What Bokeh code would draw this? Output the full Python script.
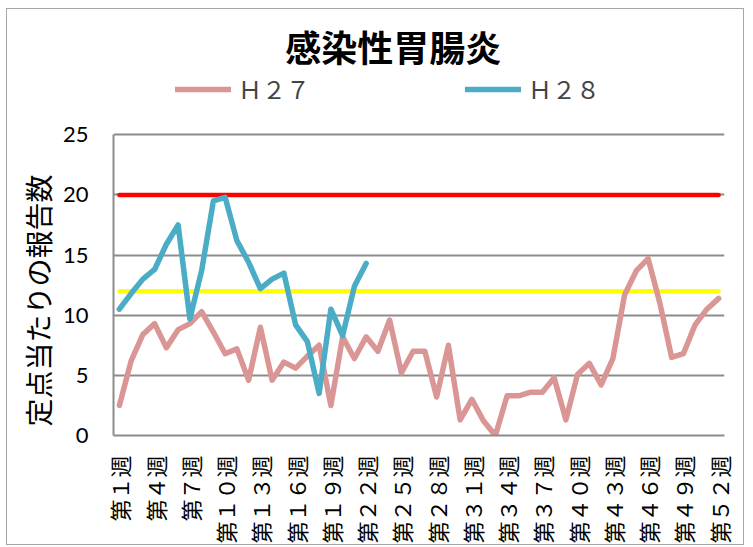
import math
from bokeh.plotting import figure
from bokeh.models import (Range1d, FixedTicker, Legend, LegendItem, Label, Title)
from bokeh.embed import file_html
from bokeh.resources import INLINE

# ---- data ----
weeks = list(range(1, 53))
h27 = [2.5, 6.2, 8.4, 9.3, 7.3, 8.8, 9.3, 10.3, 8.6, 6.8,
       7.2, 4.6, 9.0, 4.6, 6.1, 5.6, 6.6, 7.5, 2.5, 8.2,
       6.4, 8.2, 7.0, 9.6, 5.2, 7.0, 7.0, 3.2, 7.5, 1.3,
       3.0, 1.2, 0.0, 3.3, 3.3, 3.6, 3.6, 4.8, 1.3, 5.1,
       6.0, 4.2, 6.4, 11.7, 13.7, 14.7, 11.0, 6.5, 6.8, 9.2,
       10.5, 11.4]
h28_weeks = list(range(1, 23))
h28 = [10.5, 11.8, 13.0, 13.8, 15.9, 17.5, 9.7, 13.7, 19.5, 19.8,
       16.2, 14.4, 12.2, 13.0, 13.5, 9.2, 7.8, 3.5, 10.5, 8.3,
       12.4, 14.3]
alarm_start = 20   # 警報開始基準
alarm_end = 12     # 警報終息基準
tick_weeks = [1, 4, 7, 10, 13, 16, 19, 22, 25, 28, 31, 34, 37, 40, 43, 46, 49, 52]
tick_labels = ["第１週", "第４週", "第７週", "第１０週", "第１３週", "第１６週",
               "第１９週", "第２２週", "第２５週", "第２８週", "第３１週", "第３４週",
               "第３７週", "第４０週", "第４３週", "第４６週", "第４９週", "第５２週"]
y_ticks = [0, 5, 10, 15, 20, 25]
y_max = 25

JP = "Noto Sans CJK JP"
GRID = "#8c8c8c"

p = figure(width=738, height=537, output_backend="svg", toolbar_location=None,
           x_range=Range1d(0.5, 52.5), y_range=Range1d(0, 34),
           min_border_left=106, min_border_right=21, min_border_top=17,
           min_border_bottom=108)
p.background_fill_color = "white"
p.border_fill_color = "white"
p.outline_line_color = None

# title (drawn inside the extended frame, above the value area)
p.add_layout(Label(x=24.3, y=32.4, text="感染性胃腸炎", text_font=JP,
                   text_font_size="36px", text_font_style="bold",
                   text_color="black", text_align="center",
                   text_baseline="middle"))

# reference lines
p.segment(x0=[weeks[0]], x1=[weeks[-1]], y0=[alarm_start], y1=[alarm_start],
          line_color="#ff0000", line_width=4.5, line_cap="round")
p.segment(x0=[weeks[0]], x1=[weeks[-1]], y0=[alarm_end], y1=[alarm_end],
          line_color="#ffff00", line_width=4.5, line_cap="round")

r27 = p.line(weeks, h27, line_color="#d99694", line_width=5.5,
             line_join="round", line_cap="round")
r28 = p.line(h28_weeks, h28, line_color="#4bacc6", line_width=5.5,
             line_join="round", line_cap="round")

legend = Legend(items=[LegendItem(label="Ｈ２７", renderers=[r27]),
                       LegendItem(label="Ｈ２８", renderers=[r28])],
                orientation="horizontal", location=(62, 329),
                padding=0, margin=0, spacing=155, glyph_width=56,
                glyph_height=24, label_standoff=7,
                label_text_font=JP, label_text_font_size="24px",
                background_fill_alpha=0, border_line_color=None)
p.add_layout(legend, "center")

# axes
xa = p.xaxis[0]
xa.ticker = FixedTicker(ticks=tick_weeks)
xa.major_label_overrides = {w: l for w, l in zip(tick_weeks, tick_labels)}
xa.major_label_orientation = math.pi / 2
xa.major_label_text_font = JP
xa.major_label_text_font_size = "22px"
xa.major_label_text_color = "black"
xa.major_label_standoff = 20
xa.major_tick_line_color = None
xa.major_tick_out = 0
xa.major_tick_in = 0
xa.minor_tick_line_color = None
xa.axis_line_color = GRID
xa.axis_line_width = 2

ya = p.yaxis[0]
ya.ticker = FixedTicker(ticks=y_ticks)
ya.bounds = (0, y_max)
ya.major_label_text_font = "Lato"
ya.major_label_text_font_size = "22px"
ya.major_label_text_color = "black"
ya.major_label_standoff = 25
ya.major_tick_line_color = None
ya.major_tick_out = 0
ya.major_tick_in = 0
ya.minor_tick_line_color = None
ya.axis_line_color = GRID
ya.axis_line_width = 2

# y-axis title placed on the left, starting near the bottom of the value area
p.add_layout(Title(text="定点当たりの報告数", align="left", offset=9,
                   text_font=JP, text_font_size="28px",
                   text_font_style="normal", text_color="black",
                   standoff=4), "left")

p.xgrid.grid_line_color = None
p.ygrid.grid_line_color = GRID
p.ygrid.grid_line_width = 2
p.ygrid.bounds = (0, y_max)

p.styles = {"border": "1px solid #a6a6a6", "margin-left": "6px", "margin-top": "8px"}

open("out.html", "w").write(file_html(p, INLINE))
